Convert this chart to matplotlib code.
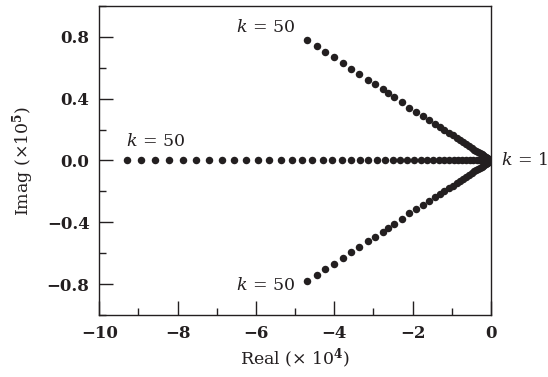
import numpy as np
import matplotlib
matplotlib.use("Agg")
import matplotlib.pyplot as plt
from matplotlib.ticker import MultipleLocator, FuncFormatter

plt.rcParams["font.family"] = ["DejaVu Serif"]
plt.rcParams["font.weight"] = "bold"
plt.rcParams["mathtext.fontset"] = "custom"
plt.rcParams["mathtext.rm"] = "DejaVu Serif:weight=bold"
plt.rcParams["mathtext.it"] = "DejaVu Serif:italic:weight=normal"
plt.rcParams["mathtext.bf"] = "DejaVu Serif:weight=bold"

# gain values k = 1 ... 50
k = np.arange(1, 51)

# real-axis root (units of 1e4)
raiz_real = -np.array([
    0.00, 0.01, 0.03, 0.06, 0.09, 0.13, 0.18, 0.24, 0.30, 0.37,
    0.45, 0.54, 0.63, 0.73, 0.84, 0.95, 1.08, 1.21, 1.34, 1.49,
    1.64, 1.80, 1.97, 2.14, 2.33, 2.51, 2.71, 2.92, 3.13, 3.35,
    3.57, 3.81, 4.05, 4.30, 4.56, 4.82, 5.09, 5.37, 5.66, 5.95,
    6.25, 6.56, 6.88, 7.20, 7.53, 7.87, 8.22, 8.57, 8.93, 9.30])

# complex pair: real part (units of 1e4)
par_re = -np.array([
    0.0, 0.0, 0.002, 0.004, 0.006, 0.01, 0.015, 0.02, 0.03, 0.04,
    0.055, 0.07, 0.09, 0.11, 0.14, 0.17, 0.20, 0.24, 0.28, 0.33,
    0.38, 0.43, 0.49, 0.56, 0.63, 0.71, 0.79, 0.88, 0.98, 1.08,
    1.19, 1.31, 1.44, 1.58, 1.74, 1.91, 2.09, 2.28, 2.48, 2.62,
    2.76, 2.96, 3.15, 3.36, 3.58, 3.79, 4.01, 4.24, 4.43, 4.69])

# complex pair: imaginary part (units of 1e5)
par_im = np.array([
    0.0, 0.0, 0.0, 0.001, 0.001, 0.002, 0.002, 0.003, 0.005, 0.007,
    0.009, 0.012, 0.015, 0.018, 0.023, 0.028, 0.033, 0.040, 0.046, 0.055,
    0.063, 0.071, 0.081, 0.093, 0.105, 0.118, 0.131, 0.146, 0.163, 0.179,
    0.198, 0.217, 0.239, 0.260, 0.285, 0.312, 0.342, 0.376, 0.413, 0.435,
    0.461, 0.493, 0.521, 0.558, 0.594, 0.629, 0.668, 0.704, 0.741, 0.780])

cor = "#231f20"

fig = plt.figure(figsize=(5.48, 3.77), dpi=100)
ax = fig.add_axes([0.1812, 0.1645, 0.7148, 0.8196])

estilo = dict(linestyle="none", marker="o", markersize=5.4, color=cor,
              markeredgewidth=0)
ax.plot(raiz_real, np.zeros_like(raiz_real), **estilo)
ax.plot(par_re, par_im, **estilo)
ax.plot(par_re, -par_im, **estilo)

ax.set_xlim(-10, 0)
ax.set_ylim(-1, 1)
ax.xaxis.set_major_locator(MultipleLocator(2))
ax.xaxis.set_minor_locator(MultipleLocator(1))
ax.yaxis.set_major_locator(MultipleLocator(0.4))
ax.yaxis.set_minor_locator(MultipleLocator(0.2))
ax.xaxis.set_major_formatter(FuncFormatter(lambda v, p: f"{v:.0f}".replace("-", "\u2212")))
ax.yaxis.set_major_formatter(FuncFormatter(
    lambda v, p: f"{0.0 if abs(v) < 1e-9 else v:.1f}".replace("-", "\u2212")))

ax.tick_params(which="both", direction="in", top=False, right=False,
               labelsize=12, colors=cor, width=1.0)
ax.tick_params(which="major", length=10, pad=7)
ax.tick_params(which="minor", length=5)
for s in ax.spines.values():
    s.set_color(cor)
    s.set_linewidth(1.0)

ax.set_xlabel("Real (\u00d7 10$^4$)", fontsize=12.5, color=cor, labelpad=4)
ax.set_ylabel("Imag (\u00d710$^5$)", fontsize=12.5, color=cor, labelpad=8)

# k annotations at the ends of each branch
fs = 12.5
rotulo = "$k$ = "
opts = dict(fontsize=fs, color=cor, va="center", fontweight="normal")
ax.text(-5.0, 0.86, rotulo + "50", ha="right", **opts)
ax.text(-9.33, 0.12, rotulo + "50", ha="left", **opts)
ax.text(-5.0, -0.81, rotulo + "50", ha="right", **opts)
ax.text(0.25, 0.0, rotulo + "1", ha="left", clip_on=False, **opts)

fig.savefig("out.png", dpi=100)
